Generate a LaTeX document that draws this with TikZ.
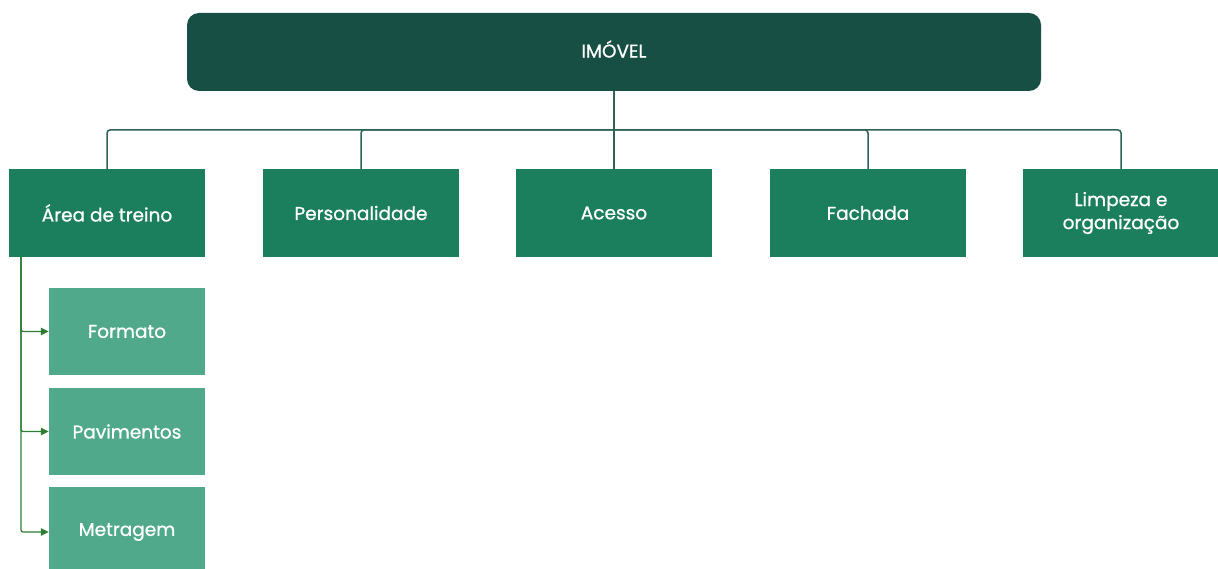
\documentclass[tikz,border=0pt]{standalone}
\usepackage{fontspec}
\setmainfont{Poppins}[FakeBold=0.9]
\usetikzlibrary{arrows.meta}
\definecolor{topc}{HTML}{174F45}
\definecolor{midc}{HTML}{1B7F5E}
\definecolor{subc}{HTML}{4FA98A}
\definecolor{linec}{HTML}{2F6358}
\definecolor{arrc}{HTML}{2E7D32}
\begin{document}
\begin{tikzpicture}[x=1pt,y=-1pt,
  lbl/.style={text=white,font=\fontsize{18.5}{23}\selectfont,inner sep=0pt},
  topbox/.style={lbl,fill=topc,rounded corners=12pt,minimum width=854pt,minimum height=78pt},
  midbox/.style={lbl,fill=midc,minimum width=196pt,minimum height=88pt,align=center},
  subbox/.style={lbl,fill=subc,minimum width=156pt,minimum height=87pt},
  conn/.style={draw=linec,line width=1.5pt,rounded corners=3pt},
  arr/.style={draw=arrc,line width=1.3pt,rounded corners=2pt,-{Triangle[length=8pt,width=7.5pt]}}]
\useasboundingbox (0,0) rectangle (1218,569);
\clip (0,0) rectangle (1218,569);
\node[topbox] (top) at (614,52) {};
\node[lbl] (toplbl) at (614,49) {IMÓVEL};
\node[midbox] (a) at (107,213) {Área de treino};
\node[midbox] (b) at (361,213) {Personalidade};
\node[midbox] (c) at (614,213) {Acesso};
\node[midbox] (d) at (868,213) {Fachada};
\node[midbox] (e) at (1121,213) {Limpeza e\\organização};
\node[subbox] (f) at (127,331.5) {Formato};
\node[subbox] (g) at (127,431.5) {Pavimentos};
\node[subbox,minimum height=90pt] (h) at (127,532) {Metragem};
\coordinate (j) at (614,130);
\draw[conn] (top.south) -- (c.north);
\draw[conn] (j) -| (a.north);
\draw[conn] (j) -| (b.north);
\draw[conn] (j) -| (d.north);
\draw[conn] (j) -| (e.north);
\draw[arr] (21,257) |- (f.west);
\draw[arr] (21,257) |- (g.west);
\draw[arr] (21,257) |- (h.west);
\end{tikzpicture}
\end{document}
